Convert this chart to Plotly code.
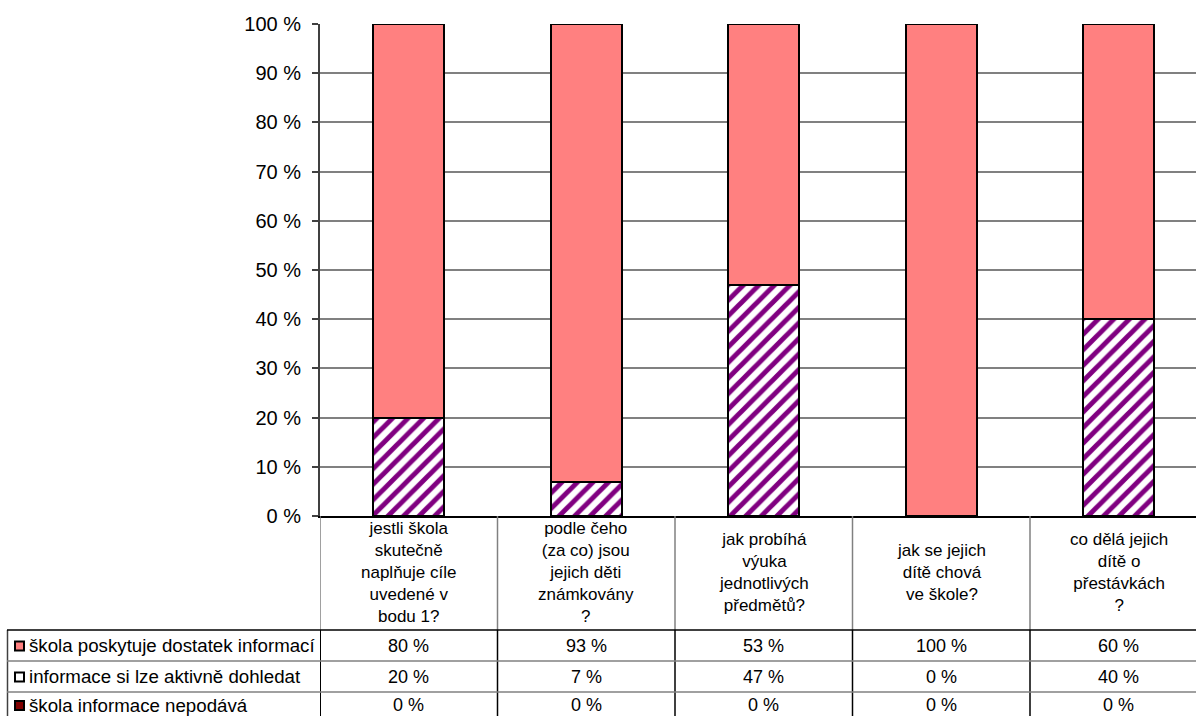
import plotly.graph_objects as go

categories = [
    "jestli škola<br>skutečně<br>naplňuje cíle<br>uvedené v<br>bodu 1?",
    "podle čeho<br>(za co) jsou<br>jejich děti<br>známkovány<br>?",
    "jak probíhá<br>výuka<br>jednotlivých<br>předmětů?",
    "jak se jejich<br>dítě chová<br>ve škole?",
    "co dělá jejich<br>dítě o<br>přestávkách<br>?",
]
series_names = [
    "škola poskytuje dostatek informací",
    "informace si lze aktivně dohledat",
    "škola informace nepodává",
]
poskytuje = [80, 93, 53, 100, 60]
dohledat = [20, 7, 47, 0, 40]
nepodava = [0, 0, 0, 0, 0]
y_ticks = [0, 10, 20, 30, 40, 50, 60, 70, 80, 90, 100]
y_tick_text = [f"{v} %" for v in y_ticks]

FONT = "Liberation Sans, Arial, sans-serif"
W, H = 1196, 716
L, T, B_PX = 320, 24, 516
PW = W - L
PH = B_PX - T


def px_x(x):
    return (x - L) / PW


def px_y(y):
    return (B_PX - y) / PH


xs = list(range(len(categories)))
fig = go.Figure()
fig.add_trace(go.Bar(
    x=xs, y=dohledat, name=series_names[1], width=0.4,
    marker=dict(color="white", line=dict(color="black", width=2),
                pattern=dict(shape="/", fgcolor="#800080", bgcolor="white",
                             fgopacity=1, size=11, solidity=0.45)),
))
fig.add_trace(go.Bar(
    x=xs, y=poskytuje, name=series_names[0], width=0.4,
    marker=dict(color="#FF8080", line=dict(color="black", width=2)),
))
fig.add_trace(go.Bar(
    x=xs, y=nepodava, name=series_names[2], width=0.4,
    marker=dict(color="#800000", line=dict(color="black", width=0)),
))

shapes = []
annotations = []

# category label area separators (gray)
for k in range(len(categories)):
    shapes.append(dict(type="line", xref="x", yref="paper",
                       x0=k - 0.5, x1=k - 0.5, y0=0, y1=px_y(630),
                       line=dict(color="#808080", width=1.5)))
# table vertical lines (black)
for k in range(len(categories)):
    shapes.append(dict(type="line", xref="x", yref="paper",
                       x0=k - 0.5, x1=k - 0.5, y0=px_y(630), y1=px_y(720),
                       line=dict(color="black", width=2 if k == 0 else 1.5)))
shapes.append(dict(type="line", xref="paper", yref="paper",
                   x0=px_x(7.5), x1=px_x(7.5), y0=px_y(630), y1=px_y(720),
                   line=dict(color="#404040", width=1.5)))
# table horizontal lines
row_lines = [(630, "black"), (661, "#808080"), (692, "#808080")]
for yy, col in row_lines:
    shapes.append(dict(type="line", xref="paper", yref="paper",
                       x0=px_x(7), x1=1, y0=px_y(yy), y1=px_y(yy),
                       line=dict(color=col, width=1.5)))

# category labels
for k, c in enumerate(categories):
    annotations.append(dict(x=k, y=px_y(572), xref="x", yref="paper",
                            text=c, showarrow=False, xanchor="center",
                            yanchor="middle", align="center",
                            font=dict(family=FONT, size=17, color="black")))

# rows
row_centers = [645.5, 676.5, 705]
row_values = [poskytuje, dohledat, nepodava]
key_colors = ["#FF8080", "white", "#800000"]
for r in range(3):
    yc = row_centers[r]
    shapes.append(dict(type="rect", xref="paper", yref="paper",
                       x0=px_x(15), x1=px_x(24), y0=px_y(yc - 4), y1=px_y(yc + 5),
                       fillcolor=key_colors[r], line=dict(color="black", width=2)))
    annotations.append(dict(x=px_x(27), y=px_y(yc), xref="paper", yref="paper",
                            text=series_names[r], showarrow=False,
                            xanchor="left", yanchor="middle",
                            font=dict(family=FONT, size=18.7, color="black")))
    for k, v in enumerate(row_values[r]):
        annotations.append(dict(x=k, y=px_y(yc), xref="x", yref="paper",
                                text=f"{v} %", showarrow=False,
                                xanchor="center", yanchor="middle",
                                font=dict(family=FONT, size=18, color="black")))

fig.update_layout(
    width=W, height=H,
    margin=dict(l=L, r=0, t=T, b=H - B_PX, pad=0),
    barmode="stack",
    bargap=0.6,
    showlegend=False,
    plot_bgcolor="white",
    paper_bgcolor="white",
    font=dict(family=FONT, size=18, color="black"),
    shapes=shapes,
    annotations=annotations,
)
fig.update_xaxes(range=[-0.5, -0.5 + PW / 177.5], showticklabels=False,
                 showgrid=False, zeroline=False, showline=True,
                 linecolor="black", linewidth=1.5, ticks="")
fig.update_yaxes(range=[0, 100], tickmode="array", tickvals=y_ticks,
                 ticktext=y_tick_text,
                 showgrid=True, gridcolor="#808080", gridwidth=1.5,
                 zeroline=False, showline=True, linecolor="#404040",
                 linewidth=2, ticks="outside", ticklen=6, tickcolor="#404040",
                 tickwidth=1.5, ticklabelstandoff=7,
                 tickfont=dict(family=FONT, size=20, color="black"))

fig.write_html(
    "out.html",
    config={"displayModeBar": False},
    post_script="document.body.style.margin='0';document.body.style.overflow='hidden';",
)
